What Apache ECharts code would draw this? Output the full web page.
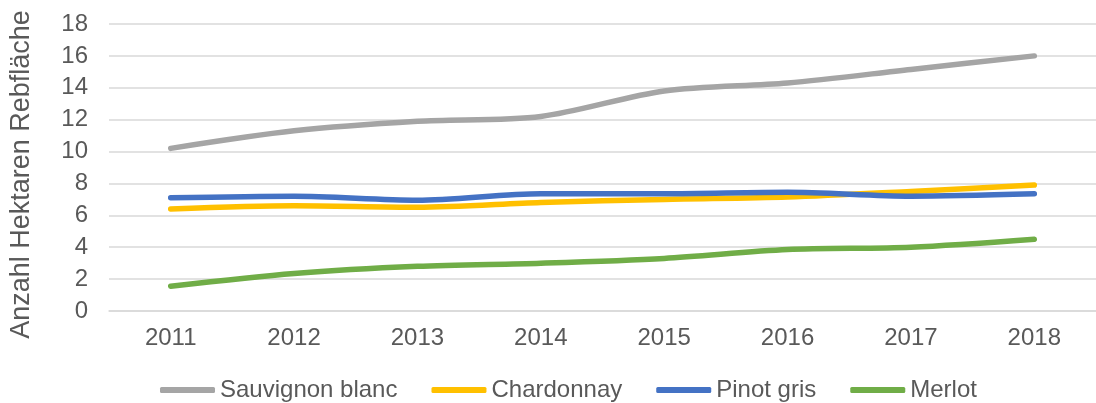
<!DOCTYPE html>
<html>
<head>
<meta charset="utf-8">
<script src="https://cdn.jsdelivr.net/npm/echarts@6/dist/echarts.min.js"></script>
<style>
  html, body { margin: 0; padding: 0; background: #fff; }
  #chart { width: 1096px; height: 403px; }
</style>
</head>
<body>
<div id="chart"></div>
<script>
    // Jahre und Rebfläche pro Sorte
    var years = ['2011', '2012', '2013', '2014', '2015', '2016', '2017', '2018'];
    var sauvignonBlanc = [10.2, 11.3, 11.9, 12.2, 13.8, 14.3, 15.15, 16.0];
    var chardonnay = [6.4, 6.6, 6.5, 6.8, 7.0, 7.15, 7.5, 7.9];
    var pinotGris = [7.1, 7.2, 6.95, 7.35, 7.35, 7.45, 7.2, 7.35];
    var merlot = [1.55, 2.35, 2.8, 3.0, 3.3, 3.85, 4.0, 4.5];

    var yTicks = {min: 0, max: 18, interval: 2};
    var font = "'Liberation Sans', Arial, sans-serif";
    var textColor = '#595959';

    var myChart = echarts.init(document.getElementById('chart'));

    function makeSeries(name, data, color) {
        return {
            name: name,
            type: 'line',
            data: data,
            smooth: 0.3,
            showSymbol: false,
            symbol: 'none',
            lineStyle: {width: 5.5, color: color, cap: 'round', join: 'round'},
            itemStyle: {color: color},
            emphasis: {disabled: true}
        };
    }

    var option = {
        animation: false,
        grid: {
            left: 109,
            top: 24,
            width: 999,
            height: 287,
            containLabel: false
        },
        legend: {
            left: 155,
            top: 373,
            itemWidth: 55,
            itemHeight: 6,
            itemGap: 34,
            icon: 'roundRect',
            textStyle: {fontFamily: font, fontSize: 24, color: textColor},
            data: ['Sauvignon blanc', 'Chardonnay', 'Pinot gris', 'Merlot']
        },
        xAxis: {
            type: 'category',
            data: years,
            boundaryGap: true,
            axisLine: {show: true, lineStyle: {color: '#D9D9D9', width: 1.5}},
            axisTick: {show: false},
            axisLabel: {fontFamily: font, fontSize: 24, color: textColor, margin: 15}
        },
        yAxis: {
            type: 'value',
            min: yTicks.min,
            max: yTicks.max,
            interval: yTicks.interval,
            name: 'Anzahl Hektaren Rebfläche',
            nameLocation: 'middle',
            nameGap: 74,
            nameTextStyle: {fontFamily: font, fontSize: 27, color: textColor, padding: [0, 14, 0, 0]},
            axisLine: {show: false},
            axisTick: {show: false},
            axisLabel: {fontFamily: font, fontSize: 24, color: textColor, margin: 21},
            splitLine: {lineStyle: {color: '#D9D9D9', width: 1.5}}
        },
        series: [
            makeSeries('Sauvignon blanc', sauvignonBlanc, '#A5A5A5'),
            makeSeries('Chardonnay', chardonnay, '#FFC000'),
            makeSeries('Pinot gris', pinotGris, '#4472C4'),
            makeSeries('Merlot', merlot, '#70AD47')
        ]
    };
    myChart.setOption(option);
</script>
</body>
</html>
